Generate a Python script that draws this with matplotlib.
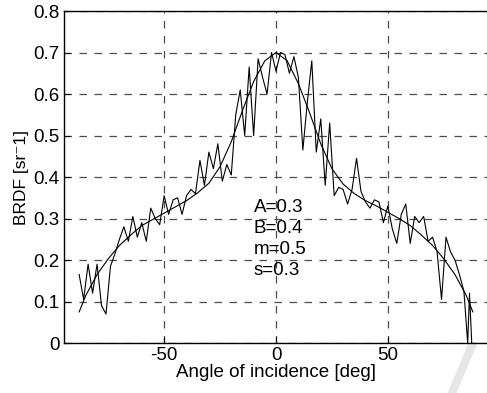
import numpy as np
import matplotlib
matplotlib.use('Agg')
import matplotlib.pyplot as plt
from matplotlib.lines import Line2D

plt.rcParams['font.family'] = ['Liberation Sans', 'DejaVu Sans']
plt.rcParams['axes.unicode_minus'] = False

# smooth model curve
model_angle = [-88, -85, -80, -75, -70, -65, -60, -55, -50, -45, -40, -35, -30, -25, -20, -15, -10, -5, 0,
               5, 10, 15, 20, 25, 30, 35, 40, 45, 50, 55, 60, 65, 70, 75, 80, 85, 88]
model_brdf = [0.075, 0.115, 0.165, 0.203, 0.235, 0.26, 0.283, 0.298, 0.313, 0.328, 0.343, 0.362, 0.385,
              0.425, 0.485, 0.56, 0.63, 0.68, 0.70, 0.68, 0.625, 0.555, 0.48, 0.42, 0.383, 0.36, 0.343,
              0.33, 0.315, 0.3, 0.283, 0.26, 0.235, 0.203, 0.165, 0.115, 0.075]

# measured (noisy) data
meas_angle = list(range(-88, 85, 2)) + [85.7, 86.5, 87.5]
meas_brdf = [0.165, 0.105, 0.19, 0.12, 0.19, 0.09, 0.07, 0.185, 0.215, 0.25,
             0.28, 0.245, 0.305, 0.255, 0.29, 0.245, 0.325, 0.30, 0.285, 0.355,
             0.31, 0.345, 0.35, 0.31, 0.355, 0.37, 0.36, 0.44, 0.38, 0.46,
             0.42, 0.48, 0.39, 0.43, 0.405, 0.55, 0.61, 0.50, 0.665, 0.50,
             0.685, 0.64, 0.60, 0.70, 0.655, 0.70, 0.695, 0.65, 0.69, 0.64,
             0.465, 0.58, 0.68, 0.46, 0.54, 0.38, 0.53, 0.355, 0.375, 0.37,
             0.335, 0.37, 0.445, 0.365, 0.34, 0.325, 0.345, 0.34, 0.29, 0.33,
             0.275, 0.24, 0.31, 0.335, 0.24, 0.305, 0.29, 0.305, 0.245, 0.255,
             0.22, 0.105, 0.255, 0.22, 0.2, 0.165, 0.125, 0.0, 0.12, 0.0]

xticks = [-50, 0, 50]
yticks = [0, 0.1, 0.2, 0.3, 0.4, 0.5, 0.6, 0.7, 0.8]
ytick_labels = ['0', '0.1', '0.2', '0.3', '0.4', '0.5', '0.6', '0.7', '0.8']
params_text = 'A=0.3\nB=0.4\nm=0.5\ns=0.3'

fig = plt.figure(figsize=(4.87, 3.93), dpi=100)
ax = fig.add_axes([0.1304, 0.1272, 0.8727, 0.8448])

ax.plot(meas_angle, meas_brdf, color='black', lw=0.8)
ax.plot(model_angle, model_brdf, color='black', lw=0.8)

ax.set_xlim(-95, 95)
ax.set_ylim(0, 0.8)
ax.set_xticks(xticks)
ax.set_yticks(yticks)
ax.set_yticklabels(ytick_labels)
ax.tick_params(direction='in', length=4, labelsize=13.5, colors='black', pad=3)
ax.grid(True, color='#4d4d4d', linestyle=(0, (6, 6)), linewidth=0.9)
for s in ax.spines.values():
    s.set_linewidth(1.0)

ax.set_xlabel('Angle of incidence [deg]', fontsize=13.5, labelpad=0)
ax.set_ylabel('BRDF [sr\u207b1]', fontsize=12.5, labelpad=3)

ax.text(-10, 0.348, params_text, fontsize=13.5, va='top', ha='left', linespacing=1.32)

# faint diagonal stroke in the lower right corner
fig.add_artist(Line2D([452 / 487, 492 / 487], [0.0, 95 / 393], transform=fig.transFigure,
                      color='#e6e6e6', lw=6, zorder=-1))

fig.savefig('out.png', dpi=100)
